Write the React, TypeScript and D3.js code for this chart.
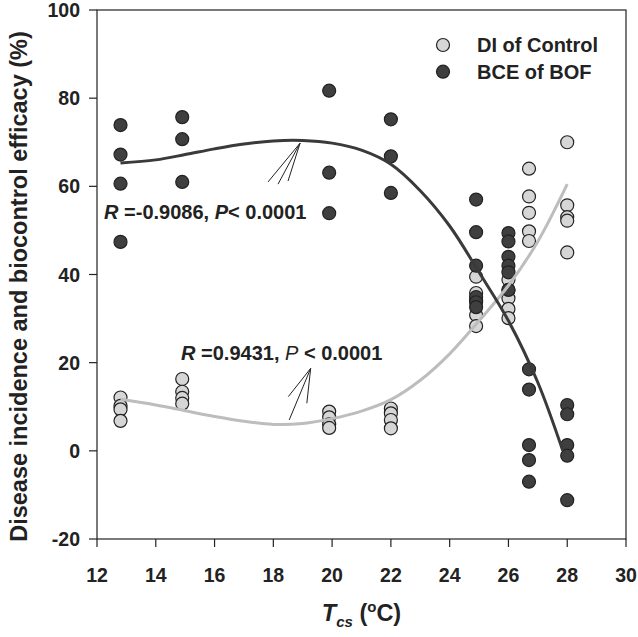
import React from "react";
import * as d3 from "d3";

// ---- data ----
const temps = [12.8, 14.9, 19.9, 22.0, 24.9, 26.0, 26.7, 28.0];

const diControl: number[][] = [
  [12.1, 10.2, 9.4, 6.8],
  [16.3, 13.4, 12.0, 10.7],
  [8.9, 7.6, 6.0, 5.2],
  [9.6, 8.5, 7.0, 5.1],
  [39.5, 35.8, 34.2, 30.8, 28.3],
  [38.8, 36.5, 34.6, 32.2, 30.1],
  [64.0, 57.7, 54.0, 49.8, 47.6],
  [70.0, 55.7, 53.0, 52.2, 45.0],
];

const bceBOF: number[][] = [
  [73.9, 67.2, 60.6, 47.4],
  [75.7, 70.7, 61.0],
  [81.7, 63.1, 53.9],
  [75.2, 66.8, 58.5],
  [57.0, 49.6, 42.0, 34.9, 33.7, 32.6],
  [49.4, 47.5, 44.0, 42.0, 40.5, 36.5],
  [18.5, 13.9, 1.3, -2.1, -7.0],
  [10.4, 8.3, 1.3, -1.1, -11.2],
];

// fitted curves
const bceFitX = [12.8, 14, 15, 16, 17, 18, 19, 20, 21, 22, 23, 24, 25, 26, 27, 27.85];
const bceFitY = [65.3, 66, 67.2, 68.5, 69.6, 70.3, 70.4, 69.8, 68.2, 65, 59, 51, 40.5, 29.5, 15.5, 0];
const diFitX = [12.8, 14, 15, 16, 17, 18, 19, 20, 21, 22, 23, 24, 25, 26, 27, 28];
const diFitY = [11.7, 10.4, 9.1, 7.8, 6.7, 6.0, 6.2, 7.3, 9.0, 11.6, 16.0, 22.0, 29.5, 37.5, 47.5, 60.5];

const xTicks = [12, 14, 16, 18, 20, 22, 24, 26, 28, 30];
const yTicks = [-20, 0, 20, 40, 60, 80, 100];

const legendLabels = ["DI of Control", "BCE of BOF"];

// annotation arrows: tip and tails in data units
const bceArrowTip: [number, number] = [18.91, 69.8];
const bceArrowTails: [number, number][] = [[17.82, 61.0], [18.16, 60.5], [18.5, 61.2]];
const diArrowTip: [number, number] = [19.27, 18.7];
const diArrowTails: [number, number][] = [[18.51, 12.3], [18.54, 7.0], [19.14, 10.8]];

const LIGHT = "#d6d6d6";
const DARK = "#3f3f3f";
const LIGHT_LINE = "#bdbdbd";
const DARK_LINE = "#3a3a3a";
const FONT = "'Liberation Sans', Arial, Helvetica, sans-serif";

export default function App() {
  const W = 638, H = 637;
  const x = d3.scaleLinear().domain([12, 30]).range([97, 626]);
  const y = d3.scaleLinear().domain([-20, 100]).range([539, 10]);
  const r = 6.5;

  const line = d3
    .line<[number, number]>()
    .x((d) => x(d[0]))
    .y((d) => y(d[1]))
    .curve(d3.curveCatmullRom.alpha(0.5));

  const bceFit = bceFitX.map((v, i) => [v, bceFitY[i]] as [number, number]);
  const diFit = diFitX.map((v, i) => [v, diFitY[i]] as [number, number]);

  const pts = (arr: number[][]) =>
    arr.flatMap((vals, i) => vals.map((v) => ({ t: temps[i], v })));

  return (
    <svg
      width={W}
      height={H}
      style={{ position: "absolute", left: 0, top: 0, background: "#fff" }}
      fontFamily={FONT}
    >
      <rect x={0} y={0} width={W} height={H} fill="#fff" />
      {/* frame */}
      <rect
        x={x(12)}
        y={y(100)}
        width={x(30) - x(12)}
        height={y(-20) - y(100)}
        fill="none"
        stroke="#222"
        strokeWidth={1.2}
      />
      {/* y ticks */}
      {yTicks.map((t) => (
        <g key={"y" + t}>
          <line x1={x(12) - 8} x2={x(12)} y1={y(t)} y2={y(t)} stroke="#222" strokeWidth={1.2} />
          <text
            x={x(12) - 17}
            y={y(t)}
            dy="0.36em"
            textAnchor="end"
            fontSize={19.5}
            fontWeight="bold"
            fill="#222"
          >
            {t}
          </text>
        </g>
      ))}
      {/* x ticks */}
      {xTicks.map((t) => (
        <g key={"x" + t}>
          <line x1={x(t)} x2={x(t)} y1={y(-20)} y2={y(-20) + 8} stroke="#222" strokeWidth={1.2} />
          <text
            x={x(t)}
            y={y(-20) + 43}
            textAnchor="middle"
            fontSize={19.5}
            fontWeight="bold"
            fill="#222"
          >
            {t}
          </text>
        </g>
      ))}

      {/* points */}
      {pts(diControl).map((p, i) => (
        <circle key={"d" + i} cx={x(p.t)} cy={y(p.v)} r={r} fill={LIGHT} stroke="#222" strokeWidth={1.2} />
      ))}
      {pts(bceBOF).map((p, i) => (
        <circle key={"b" + i} cx={x(p.t)} cy={y(p.v)} r={r} fill={DARK} stroke="#222" strokeWidth={1.2} />
      ))}

      {/* fitted curves */}
      <path d={line(diFit) || ""} fill="none" stroke={LIGHT_LINE} strokeWidth={3} />
      <path d={line(bceFit) || ""} fill="none" stroke={DARK_LINE} strokeWidth={3} />

      {/* arrows */}
      {bceArrowTails.map((t, i) => (
        <line key={"ba" + i} x1={x(t[0])} y1={y(t[1])} x2={x(bceArrowTip[0])} y2={y(bceArrowTip[1])} stroke="#222" strokeWidth={1} />
      ))}
      {diArrowTails.map((t, i) => (
        <line key={"da" + i} x1={x(t[0])} y1={y(t[1])} x2={x(diArrowTip[0])} y2={y(diArrowTip[1])} stroke="#222" strokeWidth={1} />
      ))}

      {/* annotations */}
      <text x={x(12.24)} y={y(52.6)} fontSize={20} fontWeight="bold" fill="#222">
        <tspan fontStyle="italic">R</tspan>
        <tspan> =-0.9086, </tspan>
        <tspan fontStyle="italic">P</tspan>
        <tspan>{"< 0.0001"}</tspan>
      </text>
      <text x={x(14.86)} y={y(20.6)} fontSize={20} fontWeight="bold" fill="#222">
        <tspan fontStyle="italic">R</tspan>
        <tspan> =0.9431, </tspan>
        <tspan fontStyle="italic" fontWeight="normal">P</tspan>
        <tspan>{" < 0.0001"}</tspan>
      </text>

      {/* legend */}
      {legendLabels.map((lab, i) => (
        <g key={lab}>
          <circle cx={443} cy={45 + i * 26.7} r={r} fill={i === 0 ? LIGHT : DARK} stroke="#222" strokeWidth={1.2} />
          <text x={477} y={45 + i * 26.7} dy="0.36em" fontSize={20} fontWeight="bold" fill="#222">
            {lab}
          </text>
        </g>
      ))}

      {/* axis titles */}
      <text
        transform={`translate(27, ${(y(100) + y(-20)) / 2 + 12}) rotate(-90)`}
        textAnchor="middle"
        fontSize={23.5}
        fontWeight="bold"
        fill="#222"
      >
        Disease incidence and biocontrol efficacy (%)
      </text>
      <text x={(x(12) + x(30)) / 2} y={621} textAnchor="middle" fontSize={23.5} fontWeight="bold" fill="#222">
        <tspan fontStyle="italic">T</tspan>
        <tspan fontStyle="italic" fontSize={15} dy={6}>cs</tspan>
        <tspan dy={-6}> (</tspan>
        <tspan fontSize={15} dy={-9}>o</tspan>
        <tspan dy={9}>C)</tspan>
      </text>
    </svg>
  );
}
